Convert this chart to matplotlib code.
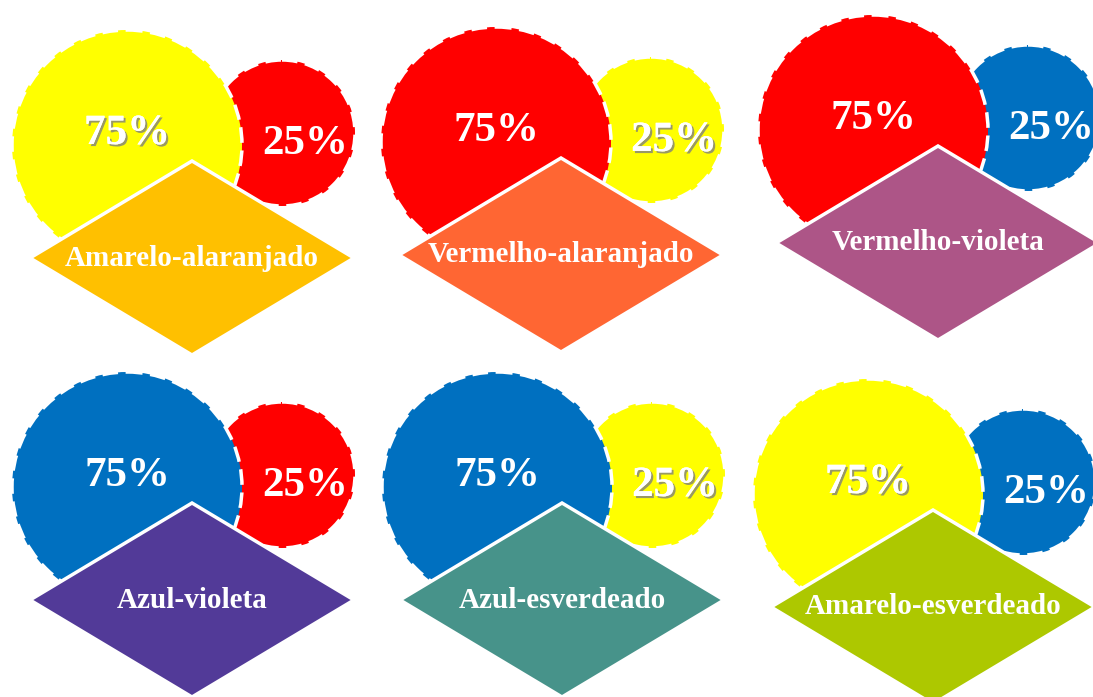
import matplotlib
matplotlib.use("Agg")
from matplotlib import pyplot as plt
from matplotlib.patches import Circle, Polygon
import matplotlib.patheffects as pe

# colour mixes: 75% of the first colour, 25% of the second
labels = ["Amarelo-alaranjado", "Vermelho-alaranjado", "Vermelho-violeta",
          "Azul-violeta", "Azul-esverdeado", "Amarelo-esverdeado"]
main_share = [75, 75, 75, 75, 75, 75]
minor_share = [25, 25, 25, 25, 25, 25]
main_color = ["#FFFF00", "#FF0000", "#FF0000", "#0070C0", "#0070C0", "#FFFF00"]
minor_color = ["#FF0000", "#FFFF00", "#0070C0", "#FF0000", "#FFFF00", "#0070C0"]
mix_color = ["#FFC000", "#FF6633", "#AD5587", "#523A98", "#47938A", "#ADC800"]

# layout (pixel coords of each diamond centre)
anchors = [(192, 258), (561, 255), (938, 243), (192, 600), (562, 600), (933, 607)]
R_BIG, R_SMALL = 115, 73
DW, DH = 162, 97

fig = plt.figure(figsize=(10.93, 6.97), dpi=100)
ax = fig.add_axes([0, 0, 1, 1])
ax.set_xlim(0, 1093)
ax.set_ylim(697, 0)
ax.set_aspect("equal")
ax.axis("off")

shadow = [pe.withSimplePatchShadow(offset=(1.5, -1.5), shadow_rgbFace="#7F7F7F", alpha=0.8), pe.Normal()]

for i, (cx, cy) in enumerate(anchors):
    sx, sy = cx + 90, cy - 125
    bx, by = cx - 65, cy - 113
    ax.add_patch(Circle((sx, sy), R_SMALL, facecolor=minor_color[i], edgecolor="white",
                        lw=2.5, ls=(0, (4.5, 2.2)), zorder=1))
    ax.add_patch(Circle((bx, by), R_BIG, facecolor=main_color[i], edgecolor="white",
                        lw=2.5, ls=(0, (4.5, 2.2)), zorder=2))
    ax.add_patch(Polygon([(cx - DW, cy), (cx, cy - DH), (cx + DW, cy), (cx, cy + DH)],
                         closed=True, facecolor=mix_color[i], edgecolor="white", lw=2.5, zorder=3))

    t1 = ax.text(bx, cy - 124, f"{main_share[i]}%", ha="center", va="center", color="white",
                 fontsize=31, fontweight="bold", family="Liberation Serif", zorder=4)
    if main_color[i] == "#FFFF00":
        t1.set_path_effects(shadow)
    t2 = ax.text(cx + 113, cy - 114, f"{minor_share[i]}%", ha="center", va="center", color="white",
                 fontsize=31, fontweight="bold", family="Liberation Serif", zorder=4)
    if minor_color[i] == "#FFFF00":
        t2.set_path_effects(shadow)
    ax.text(cx, cy, labels[i], ha="center", va="center", color="white",
            fontsize=21, fontweight="bold", family="Liberation Serif", zorder=5)

fig.savefig("out.png", dpi=100)
